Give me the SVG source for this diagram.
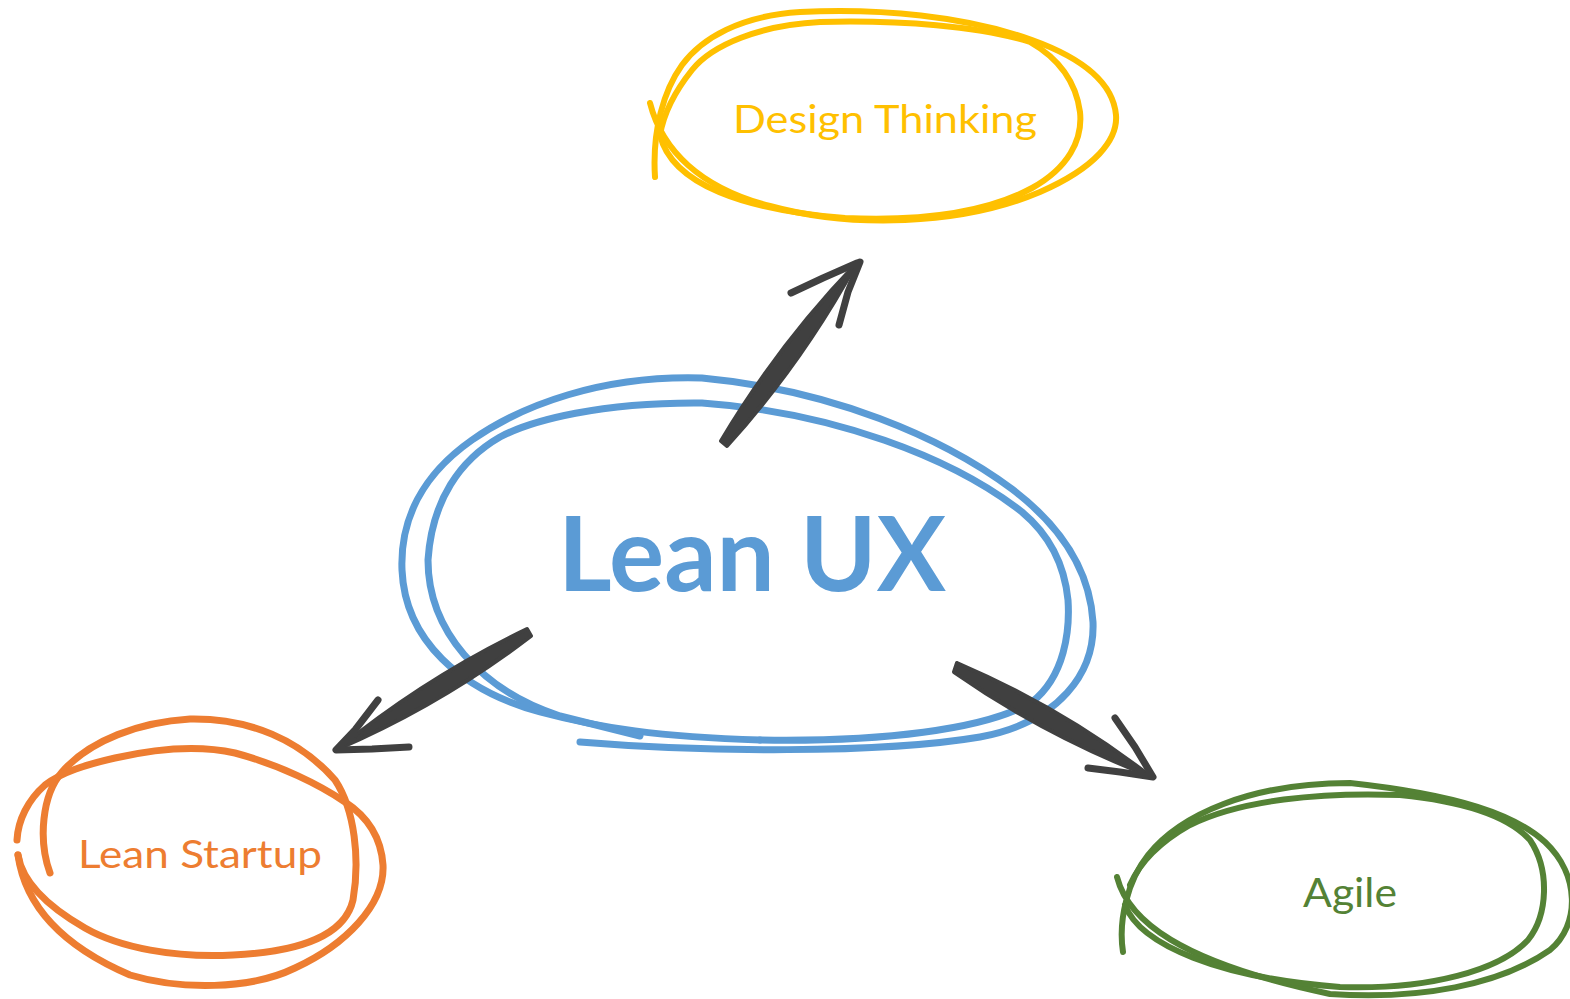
<svg xmlns="http://www.w3.org/2000/svg" width="1570" height="999" viewBox="0 0 1570 999">
<style>
.loop{fill:none;stroke-linecap:round;stroke-linejoin:round}
.y{stroke:#FFC000;stroke-width:6}
.b{stroke:#5B9BD5;stroke-width:7}
.o{stroke:#ED7D31;stroke-width:7}
.g{stroke:#548235;stroke-width:6}
.shaft{fill:#404040;stroke:#404040;stroke-width:4;stroke-linejoin:round}
.barb{fill:none;stroke:#404040;stroke-width:7;stroke-linecap:round;stroke-linejoin:round}
.lbl{font-family:Lato,"Liberation Sans",sans-serif}
</style>
<rect width="1570" height="999" fill="#ffffff"/>
<g id="node-design-thinking">
<path class="loop y" d="M 650,103 C 662,150 700,188 770,206 C 850,228 960,226 1040,192 C 1095,168 1118,140 1116,115 C 1113,82 1082,58 1032,40 C 965,16 880,8 800,12 C 740,16 702,38 682,65 C 664,90 652,130 655,177"/>
<path class="loop y" d="M 660,135 C 672,185 745,210 845,218 C 935,222 995,208 1032,188 C 1068,168 1083,140 1080,112 C 1076,82 1058,58 1030,42 C 980,26 900,20 820,22 C 760,25 712,45 692,70 C 676,90 664,112 660,135"/>
<text class="lbl" x="733" y="133" font-size="39" fill="#FFC000" textLength="304" lengthAdjust="spacingAndGlyphs">Design Thinking</text>
</g>
<g id="node-lean-ux">
<path class="loop b" d="M 580,742 C 700,752 880,754 980,737 C 1060,722 1095,672 1093,622 C 1090,572 1062,527 1012,489 C 942,437 832,390 702,378 C 602,375 522,405 472,440 C 422,475 400,520 402,570 C 405,640 460,690 540,712 C 600,728 660,737 760,740"/>
<path class="loop b" d="M 760,740 C 880,742 985,730 1032,702 C 1065,676 1070,630 1068,600 C 1064,560 1046,532 1022,512 C 952,457 832,412 702,403 C 602,402 532,420 500,437 C 460,460 432,500 428,560 C 428,630 480,690 560,716 L 640,736"/>
<text class="lbl" x="558" y="591" font-size="103" font-weight="bold" fill="#5B9BD5" textLength="388" lengthAdjust="spacingAndGlyphs">Lean UX</text>
</g>
<g id="node-lean-startup">
<path class="loop o" d="M 50,873 C 38,840 42,795 62,772 C 90,740 140,722 190,719 C 250,718 300,740 335,780 C 355,810 360,860 353,900 C 345,935 300,952 233,955 C 175,958 120,948 85,928 C 45,905 22,880 18,855"/>
<path class="loop o" d="M 18,855 C 25,905 60,945 130,975 C 180,990 250,990 295,968 C 345,945 385,905 383,865 C 381,835 365,815 345,802 C 320,785 280,765 235,753 C 195,744 150,750 115,758 C 85,765 62,772 45,785 C 28,800 18,820 17,840"/>
<text class="lbl" x="78" y="868" font-size="39" fill="#ED7D31" textLength="244" lengthAdjust="spacingAndGlyphs">Lean Startup</text>
</g>
<g id="node-agile">
<path class="loop g" d="M 1117,877 C 1128,920 1178,962 1330,994 C 1420,1000 1500,985 1550,950 C 1580,925 1580,875 1545,842 C 1515,815 1460,795 1350,783 C 1250,783 1180,815 1148,855 C 1128,880 1118,920 1123,952"/>
<path class="loop g" d="M 1125,905 C 1140,945 1220,978 1340,987 C 1430,990 1500,970 1528,940 C 1548,915 1550,870 1530,840 C 1510,818 1470,802 1400,795 C 1320,792 1240,800 1190,825 C 1160,842 1140,862 1130,885"/>
<text class="lbl" x="1303" y="907" font-size="40" fill="#548235" textLength="94" lengthAdjust="spacingAndGlyphs">Agile</text>
</g>
<g id="connectors">
<path class="shaft" d="M 721,441 Q 778,345 856,264 Q 802,363 727,446 Z"/>
<path class="barb" d="M 791,293 L 823,278 L 857,263 M 839,325 L 848,292 L 860,262"/>
<path class="shaft" d="M 527,629 Q 425,678 338,749 Q 442,704 531,636 Z"/>
<path class="barb" d="M 378,700 L 355,730 L 336,750 L 372,749 L 409,747"/>
<path class="shaft" d="M 957,663 Q 1062,708 1150,776 Q 1044,735 954,672 Z"/>
<path class="barb" d="M 1115,718 L 1135,747 L 1153,777 L 1120,772 L 1088,768"/>
</g>
</svg>
